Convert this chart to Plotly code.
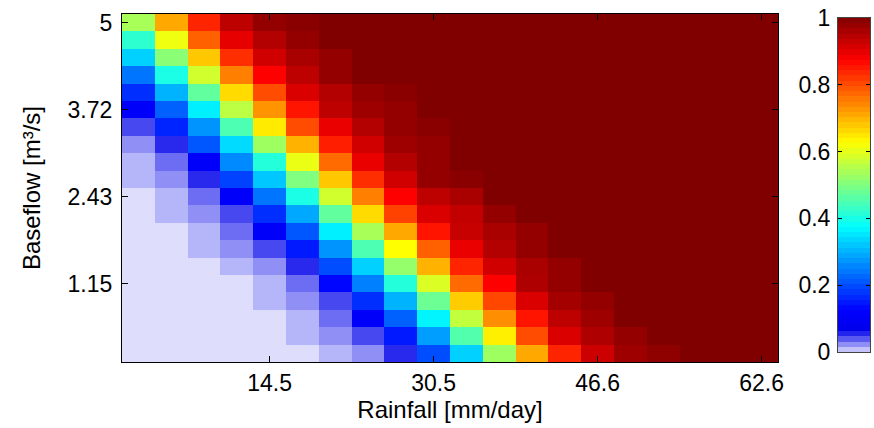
import plotly.graph_objects as go

# ---------------- data ----------------
rainfall = [1.7, 4.91, 8.11, 11.32, 14.52, 17.73, 20.93, 24.14, 27.34, 30.55,
            33.75, 36.96, 40.16, 43.37, 46.57, 49.78, 52.98, 56.19, 59.39, 62.6]
# baseflow rows listed from top (5) to bottom
baseflow = [5.0, 4.743, 4.486, 4.229, 3.973, 3.716, 3.459, 3.202, 2.945, 2.688,
            2.431, 2.175, 1.918, 1.661, 1.404, 1.147, 0.890, 0.633, 0.377, 0.12]

row01 = [0.54, 0.71, 0.84, 0.94, 0.98, 0.99, 1, 1, 1, 1, 1, 1, 1, 1, 1, 1, 1, 1, 1, 1]
row02 = [0.42, 0.61, 0.78, 0.90, 0.95, 0.98, 1, 1, 1, 1, 1, 1, 1, 1, 1, 1, 1, 1, 1, 1]
row03 = [0.33, 0.51, 0.68, 0.83, 0.92, 0.96, 0.98, 1, 1, 1, 1, 1, 1, 1, 1, 1, 1, 1, 1, 1]
row04 = [0.24, 0.40, 0.58, 0.75, 0.875, 0.94, 0.98, 1, 1, 1, 1, 1, 1, 1, 1, 1, 1, 1, 1, 1]
row05 = [0.17, 0.30, 0.47, 0.66, 0.80, 0.91, 0.95, 0.98, 0.99, 1, 1, 1, 1, 1, 1, 1, 1, 1, 1, 1]
row06 = [0.11, 0.22, 0.36, 0.56, 0.73, 0.855, 0.94, 0.97, 0.98, 1, 1, 1, 1, 1, 1, 1, 1, 1, 1, 1]
row07 = [0.044, 0.16, 0.27, 0.45, 0.645, 0.80, 0.895, 0.95, 0.98, 0.99, 1, 1, 1, 1, 1, 1, 1, 1, 1, 1]
row08 = [0.023, 0.053, 0.21, 0.34, 0.53, 0.70, 0.845, 0.92, 0.97, 0.98, 1, 1, 1, 1, 1, 1, 1, 1, 1, 1]
row09 = [0.012, 0.033, 0.11, 0.26, 0.41, 0.605, 0.77, 0.895, 0.95, 0.98, 1, 1, 1, 1, 1, 1, 1, 1, 1, 1]
row10 = [0.012, 0.023, 0.053, 0.19, 0.32, 0.50, 0.68, 0.83, 0.92, 0.98, 0.99, 1, 1, 1, 1, 1, 1, 1, 1, 1]
row11 = [0, 0.012, 0.033, 0.11, 0.24, 0.40, 0.58, 0.75, 0.875, 0.94, 0.96, 1, 1, 1, 1, 1, 1, 1, 1, 1]
row12 = [0, 0.012, 0.023, 0.044, 0.17, 0.29, 0.47, 0.66, 0.81, 0.91, 0.935, 0.98, 1, 1, 1, 1, 1, 1, 1, 1]
row13 = [0, 0, 0.012, 0.033, 0.11, 0.21, 0.36, 0.54, 0.71, 0.855, 0.93, 0.96, 0.98, 1, 1, 1, 1, 1, 1, 1]
row14 = [0, 0, 0.012, 0.023, 0.044, 0.15, 0.27, 0.45, 0.625, 0.78, 0.895, 0.95, 0.98, 1, 1, 1, 1, 1, 1, 1]
row15 = [0, 0, 0, 0.012, 0.023, 0.053, 0.20, 0.33, 0.52, 0.70, 0.84, 0.92, 0.96, 0.98, 1, 1, 1, 1, 1, 1]
row16 = [0, 0, 0, 0, 0.012, 0.033, 0.13, 0.25, 0.41, 0.59, 0.77, 0.875, 0.955, 0.98, 1, 1, 1, 1, 1, 1]
row17 = [0, 0, 0, 0, 0.012, 0.023, 0.044, 0.17, 0.30, 0.48, 0.675, 0.805, 0.91, 0.965, 0.98, 1, 1, 1, 1, 1]
row18 = [0, 0, 0, 0, 0, 0.012, 0.033, 0.11, 0.22, 0.365, 0.565, 0.735, 0.855, 0.94, 0.97, 1, 1, 1, 1, 1]
row19 = [0, 0, 0, 0, 0, 0.012, 0.023, 0.044, 0.15, 0.28, 0.455, 0.64, 0.80, 0.91, 0.955, 0.98, 1, 1, 1, 1]
row20 = [0, 0, 0, 0, 0, 0, 0.012, 0.023, 0.053, 0.20, 0.33, 0.53, 0.71, 0.84, 0.925, 0.97, 0.985, 1, 1, 1]

x_tick_vals = [14.52, 30.55, 46.57, 62.6]
x_tick_text = ["14.5", "30.5", "46.6", "62.6"]
y_tick_vals = [1.147, 2.431, 3.716, 5.0]
y_tick_text = ["1.15", "2.43", "3.72", "5"]
cb_tick_vals = [0, 0.2, 0.4, 0.6, 0.8, 1]
cb_tick_text = ["0", "0.2", "0.4", "0.6", "0.8", "1"]

# ---------------- style ----------------
colorscale = [
    [0.0, "rgb(222,222,252)"],
    [0.065, "rgb(0,0,235)"],
    [0.125, "rgb(0,0,255)"],
    [0.375, "rgb(0,255,255)"],
    [0.625, "rgb(255,255,0)"],
    [0.875, "rgb(255,0,0)"],
    [1.0, "rgb(128,0,0)"],
]
FONT = "Liberation Sans, Arial, sans-serif"

rows_top_down = [row01, row02, row03, row04, row05, row06, row07, row08, row09, row10,
                 row11, row12, row13, row14, row15, row16, row17, row18, row19, row20]
for r in rows_top_down:
    assert len(r) == len(rainfall)

z = rows_top_down[::-1]
y = baseflow[::-1]

dx = (rainfall[-1] - rainfall[0]) / (len(rainfall) - 1)
dy = (baseflow[0] - baseflow[-1]) / (len(baseflow) - 1)

fig = go.Figure()
fig.add_trace(go.Heatmap(
    x=rainfall, y=y, z=z, colorscale=colorscale, zmin=0, zmax=1,
    showscale=False, xaxis="x", yaxis="y",
))

# colour bar drawn as its own small axis (labels on the left, like MATLAB)
n_levels = 64
levels = [(i + 0.5) / n_levels for i in range(n_levels)]
fig.add_trace(go.Heatmap(
    x=[0], y=levels, z=[[v] for v in levels], colorscale=colorscale,
    zmin=0, zmax=1, showscale=False, xaxis="x2", yaxis="y2", hoverinfo="skip",
))

W, H = 874, 428
L, R, T, B = 122, 4, 14, 66
pw = W - L - R
ph = H - T - B
main_right = 778
cb_left, cb_right = 838, 870
cb_top, cb_bot = 18, 352

axis_common = dict(
    showline=True, linecolor="black", linewidth=1.3, mirror="ticks",
    ticks="inside", ticklen=6, tickwidth=1, tickcolor="black",
    showgrid=False, zeroline=False, automargin=False,
    tickfont=dict(family=FONT, size=23, color="black"),
)

fig.update_layout(
    width=W, height=H,
    margin=dict(l=L, r=R, t=T, b=B),
    paper_bgcolor="white", plot_bgcolor="white",
    font=dict(family=FONT, color="black"),
    xaxis=dict(
        domain=[0, (main_right - L) / pw],
        range=[rainfall[0] - dx / 2, rainfall[-1] + dx / 2],
        tickvals=x_tick_vals, ticktext=x_tick_text,
        title=dict(text="Rainfall [mm/day]", font=dict(family=FONT, size=24), standoff=4),
        ticklabelstandoff=0,
        anchor="y",
        **axis_common,
    ),
    yaxis=dict(
        domain=[0, 1],
        range=[baseflow[-1] - dy / 2, baseflow[0] + dy / 2],
        tickvals=y_tick_vals, ticktext=y_tick_text,
        title=dict(text="Baseflow [m³/s]", font=dict(family=FONT, size=24), standoff=20),
        ticklabelstandoff=4,
        anchor="x",
        **axis_common,
    ),
    xaxis2=dict(
        domain=[(cb_left - L) / pw, (cb_right - L) / pw],
        range=[-0.5, 0.5], showticklabels=False, ticks="",
        showline=True, linecolor="#444", linewidth=1, mirror=True,
        showgrid=False, zeroline=False, anchor="y2", automargin=False,
    ),
    yaxis2=dict(
        domain=[(H - B - cb_bot) / ph, (H - B - cb_top) / ph],
        range=[0, 1],
        tickvals=cb_tick_vals, ticktext=cb_tick_text,
        showline=True, linecolor="#444", linewidth=1, mirror="ticks",
        ticks="inside", ticklen=4, tickcolor="black",
        showgrid=False, zeroline=False, anchor="x2", side="left",
        tickfont=dict(family=FONT, size=23, color="black"),
        ticklabelstandoff=2, automargin=False,
    ),
)

fig.write_html(
    "out.html",
    config={"displayModeBar": False},
    post_script="document.body.style.margin='0px';document.body.style.overflow='hidden';",
)
